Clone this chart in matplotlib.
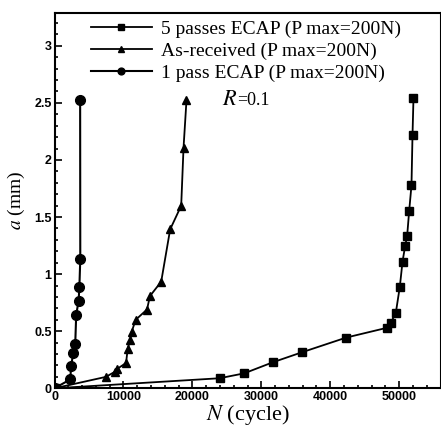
import matplotlib
matplotlib.use("Agg")
import matplotlib.pyplot as plt
from matplotlib.ticker import MultipleLocator, FuncFormatter

plt.rcParams["mathtext.fontset"] = "stix"

# 데이터 -------------------------------------------------
N_5pass = [0, 23940, 27520, 31680, 35880, 42310, 48310, 48800, 49520,
           50100, 50490, 50870, 51160, 51450, 51790, 51940, 52080]
a_5pass = [0, 0.088, 0.131, 0.228, 0.315, 0.444, 0.531, 0.575, 0.662,
           0.89, 1.109, 1.246, 1.334, 1.55, 1.777, 2.22, 2.54]

N_asrec = [0, 7450, 8800, 9100, 10380, 10620, 10960, 11200, 11780,
           13420, 13850, 15480, 16780, 18380, 18720, 19150]
a_asrec = [0, 0.1, 0.146, 0.17, 0.222, 0.345, 0.423, 0.496, 0.6,
           0.69, 0.808, 0.934, 1.392, 1.599, 2.107, 2.524]

N_1pass = [0, 2300, 2400, 2740, 3010, 3150, 3500, 3610, 3740, 3720]
a_1pass = [0, 0.078, 0.196, 0.31, 0.392, 0.645, 0.766, 0.888, 1.132, 2.524]

labels = ["5 passes ECAP (P max=200N)",
          "As-received (P max=200N)",
          "1 pass ECAP (P max=200N)"]

# 그래프 -------------------------------------------------
fig = plt.figure(figsize=(4.41, 4.29), dpi=100)
ax = fig.add_axes([54.5 / 441, 40.7 / 429, 386 / 441, 375 / 429])

serif = "Liberation Serif"
ax.plot(N_5pass, a_5pass, "-s", color="black", lw=1.3, ms=5.5, label=labels[0])
ax.plot(N_asrec, a_asrec, "-^", color="black", lw=1.3, ms=6, label=labels[1])
ax.plot(N_1pass, a_1pass, "-o", color="black", lw=1.5, ms=7, label=labels[2])

ax.set_xlim(0, 56000)
ax.set_ylim(0, 3.284)
ax.xaxis.set_major_locator(MultipleLocator(10000))
ax.xaxis.set_minor_locator(MultipleLocator(2000))
ax.yaxis.set_major_locator(MultipleLocator(0.5))
ax.yaxis.set_minor_locator(MultipleLocator(0.1))
ax.yaxis.set_major_formatter(FuncFormatter(lambda v, p: f"{v:g}"))
ax.tick_params(which="both", direction="in", top=False, right=False,
               width=1.2, labelsize=9, pad=2)
ax.tick_params(which="major", length=5)
ax.tick_params(which="minor", length=2.5)
for t in ax.get_xticklabels() + ax.get_yticklabels():
    t.set_fontweight("bold")
    t.set_family("Liberation Sans")
for s in ax.spines.values():
    s.set_linewidth(1.5)

ax.set_xlabel(r"$N$ (cycle)", family=serif, fontsize=16, labelpad=0)
ax.set_ylabel(r"$a$ (mm)", family=serif, fontsize=14, labelpad=5)

ax.text(24300, 2.52, r"$R$", family=serif, fontsize=16, va="center")
ax.text(26500, 2.52, "=0.1", family=serif, fontsize=13, va="center")

leg = ax.legend(loc="upper left", bbox_to_anchor=(30 / 386, 1.0),
                frameon=False, prop={"family": serif, "size": 14},
                handlelength=3.1, handletextpad=0.5, labelspacing=0.22,
                borderpad=0.35, borderaxespad=0, markerscale=0.7)

plt.savefig("out.png", dpi=100)
